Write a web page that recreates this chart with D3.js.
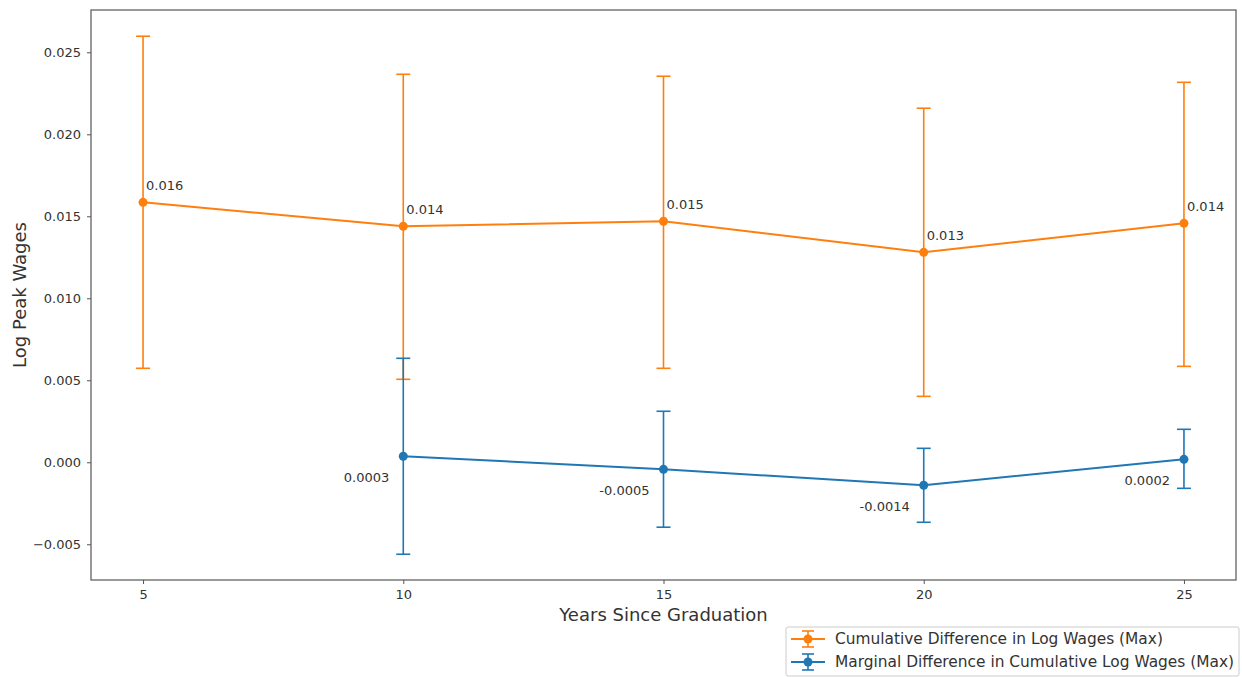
<!DOCTYPE html>
<html><head><meta charset="utf-8">
<script src="https://cdn.jsdelivr.net/npm/d3@7"></script>
<style>body{margin:0;background:#fff;font-family:"DejaVu Sans",sans-serif;}</style>
</head><body><svg id="c" width="1242" height="677"></svg>
<script>
const years = [5, 10, 15, 20, 25];
const cumYears = [5, 10, 15, 20, 25];
const cumValues = [0.01585, 0.01439, 0.0147, 0.0128, 0.01457];
const cumUpper = [0.02598, 0.02366, 0.02354, 0.02159, 0.02317];
const cumLower = [0.00573, 0.00506, 0.00573, 0.00402, 0.00585];
const cumLabels = ["0.016", "0.014", "0.015", "0.013", "0.014"];
const marYears = [10, 15, 20, 25];
const marValues = [0.00037, -0.00043, -0.0014, 0.00018];
const marUpper = [0.00634, 0.00311, 0.00085, 0.00201];
const marLower = [-0.00561, -0.00396, -0.00366, -0.00159];
const marLabels = ["0.0003", "-0.0005", "-0.0014", "0.0002"];
const yTicks = [-0.005, 0.000, 0.005, 0.010, 0.015, 0.020, 0.025];
const seriesNames = ["Cumulative Difference in Log Wages (Max)", "Marginal Difference in Cumulative Log Wages (Max)"];
const colors = ["#ff7f0e", "#1f77b4"];

const svg = d3.select("#c");
const L = 91, R = 1236, T = 10, B = 580;
const x = d3.scaleLinear().domain([4, 26]).range([L, R]);
const y = d3.scaleLinear().domain([-0.00718, 0.02758]).range([B, T]);
const axisColor = "#555", textColor = "#333";

// axes
const xa = svg.append("g").attr("transform", `translate(0,${B})`)
  .call(d3.axisBottom(x).tickValues(years).tickFormat(d3.format("d")).tickSize(4).tickPadding(6));
const ya = svg.append("g").attr("transform", `translate(${L},0)`)
  .call(d3.axisLeft(y).tickValues(yTicks).tickFormat(d => d3.format(".3f")(d).replace("-", "\u2212")).tickSize(4).tickPadding(6));
[xa, ya].forEach(g => {
  g.select(".domain").remove();
  g.selectAll("line").attr("stroke", axisColor);
  g.selectAll("text").attr("fill", textColor).style("font-size", "13px").style("font-family", "DejaVu Sans");
});
svg.append("rect").attr("x", L).attr("y", T).attr("width", R - L).attr("height", B - T)
  .attr("fill", "none").attr("stroke", axisColor).attr("stroke-width", 1.2);

svg.append("text").attr("x", (L + R) / 2).attr("y", 621).attr("text-anchor", "middle")
  .attr("fill", textColor).style("font-size", "18px").text("Years Since Graduation");
svg.append("text").attr("transform", `translate(26,${(T + B) / 2}) rotate(-90)`).attr("text-anchor", "middle")
  .attr("fill", textColor).style("font-size", "18px").text("Log Peak Wages");

function drawSeries(xs, vals, up, lo, labels, color, labelPos) {
  const g = svg.append("g");
  const pts = xs.map((d, i) => ({ x: d, v: vals[i], u: up[i], l: lo[i], lab: labels[i] }));
  g.selectAll(".eb").data(pts).enter().append("line")
    .attr("x1", d => x(d.x)).attr("x2", d => x(d.x)).attr("y1", d => y(d.u)).attr("y2", d => y(d.l))
    .attr("stroke", color).attr("stroke-width", 1.6);
  ["u", "l"].forEach(k => {
    g.selectAll(".cap" + k).data(pts).enter().append("line")
      .attr("x1", d => x(d.x) - 7).attr("x2", d => x(d.x) + 7).attr("y1", d => y(d[k])).attr("y2", d => y(d[k]))
      .attr("stroke", color).attr("stroke-width", 1.6);
  });
  g.append("path").datum(pts).attr("fill", "none").attr("stroke", color).attr("stroke-width", 2)
    .attr("d", d3.line().x(d => x(d.x)).y(d => y(d.v)));
  g.selectAll("circle").data(pts).enter().append("circle")
    .attr("cx", d => x(d.x)).attr("cy", d => y(d.v)).attr("r", 4.5).attr("fill", color);
  g.selectAll(".lab").data(pts).enter().append("text")
    .attr("x", d => x(d.x) + labelPos.dx).attr("y", d => y(d.v) + labelPos.dy)
    .attr("text-anchor", labelPos.anchor).attr("fill", textColor).style("font-size", "13px")
    .text(d => d.lab);
}
drawSeries(cumYears, cumValues, cumUpper, cumLower, cumLabels, colors[0], { dx: 3, dy: -12, anchor: "start" });
drawSeries(marYears, marValues, marUpper, marLower, marLabels, colors[1], { dx: -14, dy: 26, anchor: "end" });

// legend
const lg = svg.append("g");
lg.append("rect").attr("x", 786).attr("y", 627).attr("width", 453).attr("height", 49)
  .attr("fill", "#fff").attr("stroke", "#ccc").attr("rx", 2);
seriesNames.forEach((name, i) => {
  const cy = 639 + i * 23, cx = 808;
  lg.append("line").attr("x1", cx - 17).attr("x2", cx + 17).attr("y1", cy).attr("y2", cy).attr("stroke", colors[i]).attr("stroke-width", 2);
  lg.append("line").attr("x1", cx).attr("x2", cx).attr("y1", cy - 8).attr("y2", cy + 8).attr("stroke", colors[i]).attr("stroke-width", 1.6);
  [-8, 8].forEach(o => lg.append("line").attr("x1", cx - 6).attr("x2", cx + 6).attr("y1", cy + o).attr("y2", cy + o).attr("stroke", colors[i]).attr("stroke-width", 1.6));
  lg.append("circle").attr("cx", cx).attr("cy", cy).attr("r", 4.5).attr("fill", colors[i]);
  lg.append("text").attr("x", 835).attr("y", cy + 5).attr("fill", textColor).style("font-size", "15.4px").text(name);
});
</script></body></html>
